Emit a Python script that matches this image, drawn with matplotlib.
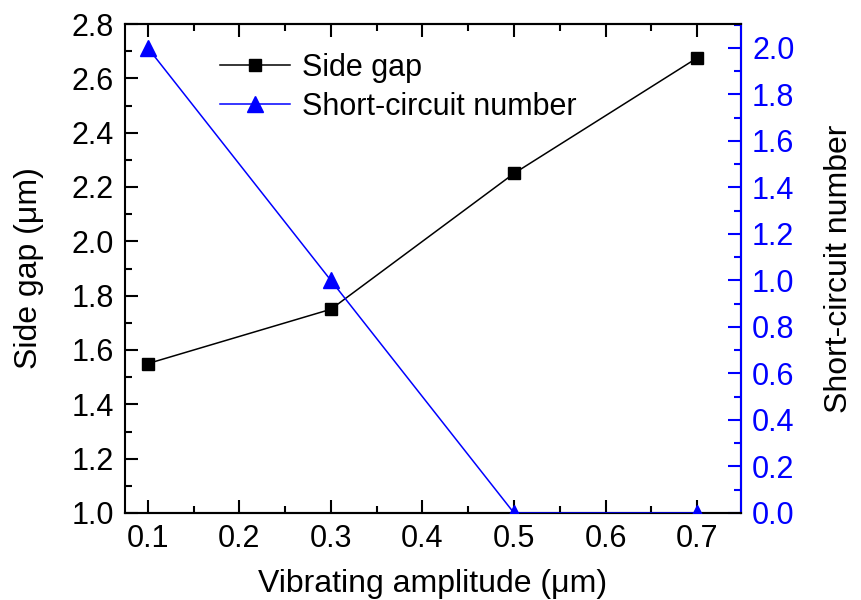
import matplotlib
matplotlib.use('Agg')
import matplotlib.pyplot as plt
from matplotlib.ticker import MultipleLocator

amplitude = [0.1, 0.3, 0.5, 0.7]
side_gap = [1.55, 1.75, 2.25, 2.675]
short_circuit = [2.0, 1.0, 0.0, 0.0]

plt.rcParams['font.family'] = ['Liberation Sans', 'DejaVu Sans']
plt.rcParams['font.size'] = 22

fig = plt.figure(figsize=(8.62, 6.0), dpi=100)
ax = fig.add_axes([125 / 862, 1 - 513 / 600, 616 / 862, 489 / 600])
ax2 = ax.twinx()

l1, = ax.plot(amplitude, side_gap, color='black', lw=1.1, marker='s', ms=9,
              label='Side gap', zorder=3)
l2, = ax2.plot(amplitude, short_circuit, color='blue', lw=1.1, marker='^', ms=12,
               label='Short-circuit number', zorder=3)

ax.set_xlim(0.075, 0.748)
ax.set_ylim(1.0, 2.8)
ax2.set_ylim(0.0, 2.103)

ax.xaxis.set_major_locator(MultipleLocator(0.1))
ax.xaxis.set_minor_locator(MultipleLocator(0.05))
ax.yaxis.set_major_locator(MultipleLocator(0.2))
ax.yaxis.set_minor_locator(MultipleLocator(0.1))
ax2.yaxis.set_major_locator(MultipleLocator(0.2))
ax2.yaxis.set_minor_locator(MultipleLocator(0.1))

ax.tick_params(axis='x', which='both', direction='in', top=True, width=1.5)
ax.tick_params(axis='y', which='both', direction='in', width=1.5)
ax.tick_params(which='major', length=9.5, pad=8, labelsize=22)
ax.tick_params(which='minor', length=5)
ax2.tick_params(axis='y', which='both', direction='in', colors='blue', width=1.5)
ax2.tick_params(which='major', length=9.5, pad=8, labelsize=22)
ax2.tick_params(which='minor', length=5)

for s in ax.spines.values():
    s.set_linewidth(1.5)
for s in ax2.spines.values():
    s.set_linewidth(1.5)
ax2.spines['right'].set_color('blue')
ax2.spines['left'].set_visible(False)

ax.set_xlabel('Vibrating amplitude (μm)', labelpad=11, fontsize=23)
ax.set_ylabel('Side gap (μm)', labelpad=20, fontsize=23)
ax2.set_ylabel('Short-circuit number', labelpad=21, fontsize=23)

ax.legend(handles=[l1, l2], loc='upper left', bbox_to_anchor=(0.119, 0.985),
          frameon=False, handlelength=2.3, borderpad=0.2, fontsize=22,
          labelspacing=0.3, handletextpad=0.4)

fig.savefig('out.png', dpi=100)
